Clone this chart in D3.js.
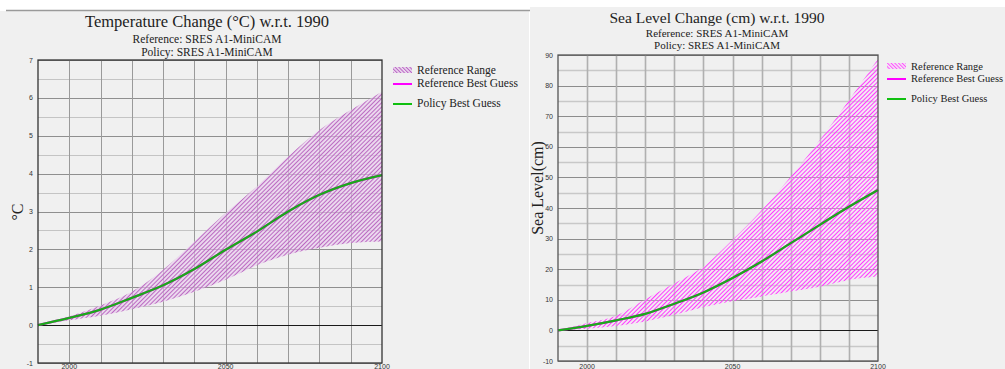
<!DOCTYPE html>
<html><head><meta charset="utf-8">
<script src="https://cdn.jsdelivr.net/npm/d3@7"></script>
<style>
html,body{margin:0;padding:0;background:#fff;overflow:hidden;}
svg{display:block;}
</style></head>
<body>
<svg id="c" width="1005" height="369"></svg>
<script>
// ---- Data ----
const years = [1990, 2000, 2010, 2020, 2030, 2040, 2050, 2060, 2070, 2080, 2090, 2100];
const tempBest  = [0, 0.19, 0.41, 0.72, 1.05, 1.48, 1.99, 2.47, 3.0, 3.44, 3.75, 3.96];
const tempUpper = [0, 0.23, 0.52, 0.88, 1.46, 2.21, 2.96, 3.66, 4.45, 5.15, 5.68, 6.16];
const tempLower = [0, 0.13, 0.25, 0.42, 0.62, 0.88, 1.2, 1.58, 1.86, 2.04, 2.17, 2.21];
const seaBest  = [0, 1.5, 3.3, 5.4, 8.7, 12.4, 17.1, 22.5, 28.5, 34.5, 40.4, 45.9];
const seaUpper = [0, 2.4, 4.8, 10.2, 15.4, 20.9, 29.6, 39.3, 50.2, 62.2, 75.2, 88.8];
const seaLower = [0, 0.5, 1.4, 2.9, 5.1, 7.6, 9.5, 11.1, 12.7, 14.3, 16.5, 17.6];
const tempTicks = [-1, 0, 1, 2, 3, 4, 5, 6, 7];
const seaTicks = [-10, 0, 10, 20, 30, 40, 50, 60, 70, 80, 90];
const xTickLabels = [2000, 2050, 2100];
const xGrid = [2000, 2010, 2020, 2030, 2040, 2050, 2060, 2070, 2080, 2090];
const subtitles = ["Reference: SRES A1-MiniCAM", "Policy: SRES A1-MiniCAM"];
const legendLabels = ["Reference Range", "Reference Best Guess", "Policy Best Guess"];

const svg = d3.select("#c");
const defs = svg.append("defs");

function hatch(id, bg, col, w, rot, sw) {
  const p = defs.append("pattern").attr("id", id).attr("patternUnits", "userSpaceOnUse")
    .attr("width", w).attr("height", w).attr("patternTransform", `rotate(${rot})`);
  if (bg) p.append("rect").attr("width", w).attr("height", w).attr("fill", bg);
  p.append("line").attr("x1", 0.5).attr("y1", 0).attr("x2", 0.5).attr("y2", w)
    .attr("stroke", col).attr("stroke-width", sw);
}
hatch("hL", "rgba(232,200,236,0.6)", "#b864c0", 3, 45, 0.95);
hatch("hLs", "rgba(232,200,236,0.5)", "#b860c4", 2.6, -45, 1);
hatch("hR", "rgba(250,215,250,0.3)", "#ff3cff", 3, 45, 1);
hatch("hRs", "rgba(250,215,250,0.5)", "#ff50ff", 2.6, -45, 1);

// panel backgrounds
svg.append("rect").attr("x", 0).attr("y", 11).attr("width", 529).attr("height", 358).attr("fill", "#f0f0f0");
svg.append("line").attr("x1", 6).attr("x2", 530).attr("y1", 10.5).attr("y2", 10.5).attr("stroke", "#9a9a9a").attr("stroke-width", 1.5);
svg.append("rect").attr("x", 530).attr("y", 7).attr("width", 475).attr("height", 362).attr("fill", "#f0f0f0");

function drawChart(o) {
  const g = svg.append("g");
  const x = d3.scaleLinear().domain([1990, 2100]).range([o.x0, o.x1]);
  const y = d3.scaleLinear().domain(o.ydom).range([o.y1, o.y0]);

  // horizontal grid
  const minor = d3.range(o.ydom[0], o.ydom[1] + 1e-9, o.minorStep);
  const isMajor = d => Math.abs(d / o.majorStep - Math.round(d / o.majorStep)) < 1e-6;
  g.selectAll(".hg").data(minor).join("line")
    .attr("x1", o.x0).attr("x2", o.x1).attr("y1", d => Math.round(y(d)) + 0.5).attr("y2", d => Math.round(y(d)) + 0.5)
    .attr("stroke", d => isMajor(d) ? o.majCol : o.minCol)
    .attr("stroke-width", d => isMajor(d) ? 1 : o.minW);
  // vertical grid
  g.selectAll(".vg").data(xGrid).join("line")
    .attr("x1", d => Math.round(x(d)) + 0.5).attr("x2", d => Math.round(x(d)) + 0.5)
    .attr("y1", o.y0).attr("y2", o.y1).attr("stroke", o.vCol).attr("stroke-width", o.vW);

  // band
  const area = d3.area().x((d, i) => x(years[i])).y0((d, i) => y(o.lower[i])).y1((d, i) => y(o.upper[i])).curve(d3.curveMonotoneX);
  g.append("path").datum(years).attr("d", area).attr("fill", `url(#${o.hatch})`);

  // zero line
  g.append("line").attr("x1", o.x0).attr("x2", o.x1).attr("y1", Math.round(y(0)) + 0.5).attr("y2", Math.round(y(0)) + 0.5)
    .attr("stroke", "#1a1a1a").attr("stroke-width", 1.2);

  const line = d3.line().x((d, i) => x(years[i])).y(d => y(d)).curve(d3.curveMonotoneX);
  g.append("path").datum(o.best).attr("d", line).attr("fill", "none").attr("stroke", "#ff00ff").attr("stroke-width", 2.2);
  g.append("path").datum(o.best).attr("d", line).attr("fill", "none").attr("stroke", "#1aaa1a").attr("stroke-width", 2.2);

  // frame
  g.append("rect").attr("x", o.x0).attr("y", o.y0).attr("width", o.x1 - o.x0).attr("height", o.y1 - o.y0)
    .attr("fill", "none").attr("stroke", o.frame).attr("stroke-width", 1.3);

  // y ticks
  g.selectAll(".yt").data(o.ticks).join("text")
    .attr("x", o.x0 - 5).attr("y", d => y(d) + 2.5).attr("text-anchor", "end")
    .attr("font-family", "Liberation Sans, Arial, sans-serif").attr("font-size", 7).attr("fill", "#333")
    .text(d => d);
  // x ticks
  g.selectAll(".xt").data(xTickLabels).join("text")
    .attr("x", d => x(d)).attr("y", o.xLabY).attr("text-anchor", "middle")
    .attr("font-family", "Liberation Sans, Arial, sans-serif").attr("font-size", 7).attr("fill", "#333")
    .text(d => d);

  // titles
  const serif = "Liberation Serif, Times New Roman, serif";
  g.append("text").attr("x", o.cx).attr("y", o.titleY).attr("text-anchor", "middle")
    .attr("font-family", serif).attr("font-size", o.titleSize).attr("fill", "#222").text(o.title);
  subtitles.forEach((s, i) => {
    g.append("text").attr("x", o.cx).attr("y", o.subY[i]).attr("text-anchor", "middle")
      .attr("font-family", serif).attr("font-size", o.subSize).attr("fill", "#222").text(s);
  });
  // y label
  g.append("text").attr("transform", `translate(${o.ylx},${o.yly}) rotate(-90)`).attr("text-anchor", "middle")
    .attr("font-family", serif).attr("font-size", o.ylSize).attr("fill", "#222").text(o.ylabel);

  // legend
  const L = o.leg;
  g.append("rect").attr("x", L.x).attr("y", L.y[0] - 4).attr("width", L.w).attr("height", 6).attr("fill", `url(#${o.hatch}s)`);
  g.append("line").attr("x1", L.x).attr("x2", L.x + L.w).attr("y1", L.y[1]).attr("y2", L.y[1]).attr("stroke", "#ff00ff").attr("stroke-width", 2);
  g.append("line").attr("x1", L.x).attr("x2", L.x + L.w).attr("y1", L.y[2]).attr("y2", L.y[2]).attr("stroke", "#10c010").attr("stroke-width", 2);
  legendLabels.forEach((s, i) => {
    g.append("text").attr("x", L.tx).attr("y", L.y[i] + 3).attr("font-family", serif).attr("font-size", L.size)
      .attr("fill", "#222").text(s);
  });
}

drawChart({
  x0: 38, x1: 382, y0: 60, y1: 363, ydom: [-1, 7], minorStep: 0.5, majorStep: 1,
  majCol: "#8f8f8f", minCol: "#c4c4c4", minW: 1, vCol: "#9a9a9a", vW: 1, frame: "#333",
  lower: tempLower, upper: tempUpper, best: tempBest, ticks: tempTicks, hatch: "hL",
  xLabY: 369, cx: 207, title: "Temperature Change (°C) w.r.t. 1990", titleY: 27, titleSize: 16.5,
  subY: [43, 56], subSize: 11.5, ylabel: "°C", ylx: 23, yly: 212, ylSize: 16,
  leg: { x: 393, w: 19, tx: 417, y: [71, 84, 104], size: 11.5 }
});
drawChart({
  x0: 558, x1: 878, y0: 55, y1: 361, ydom: [-10, 90], minorStep: 5, majorStep: 10,
  majCol: "#8c8c8c", minCol: "#c8c8c8", minW: 1.6, vCol: "#b0b0b0", vW: 1.6, frame: "#555",
  lower: seaLower, upper: seaUpper, best: seaBest, ticks: seaTicks, hatch: "hR",
  xLabY: 368.5, cx: 717, title: "Sea Level Change (cm) w.r.t. 1990", titleY: 23, titleSize: 15.5,
  subY: [37, 49], subSize: 11, ylabel: "Sea Level(cm)", ylx: 543, yly: 188, ylSize: 16,
  leg: { x: 887, w: 19, tx: 911, y: [67, 79, 99], size: 10.5 }
});
</script>
</body></html>
